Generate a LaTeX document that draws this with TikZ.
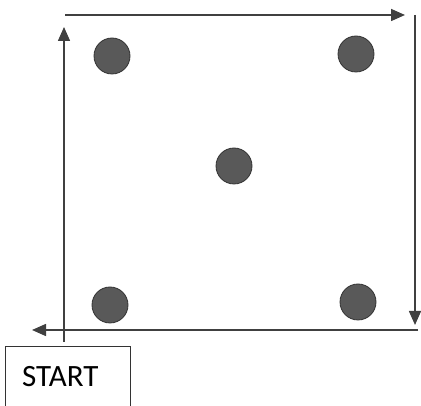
\documentclass[tikz,border=0pt]{standalone}
\usepackage{fontspec}
\setmainfont{Carlito}
\usetikzlibrary{arrows.meta}
\begin{document}
\begin{tikzpicture}[x=1pt,y=-1pt,
  edge/.style={draw=black!75,line width=1.6pt,-{Triangle[length=14pt,width=12pt]}},
  dot/.style={circle,fill=black!65,draw=black!80,line width=0.8pt,minimum size=36pt,inner sep=0pt},
  startbox/.style={draw=black!80,line width=1pt}]
\clip (0,0) rectangle (421,406);
\useasboundingbox (0,0) rectangle (421,406);
\coordinate (t1) at (65,15);
\coordinate (t2) at (405,15);
\coordinate (r1) at (415,15);
\coordinate (r2) at (415,325);
\coordinate (b1) at (418,330);
\coordinate (b2) at (32,330);
\coordinate (l1) at (64,342);
\coordinate (l2) at (64,27);
\draw[edge] (t1) -- (t2);
\draw[edge] (r1) -- (r2);
\draw[edge] (b1) -- (b2);
\draw[edge] (l1) -- (l2);
\node[dot] (d1) at (112,56) {};
\node[dot] (d2) at (356,54) {};
\node[dot] (d3) at (234,166) {};
\node[dot] (d4) at (110,305) {};
\node[dot] (d5) at (358,302) {};
\draw[startbox] (5,347) rectangle (130,420);
\node[anchor=base west,inner sep=0pt,font=\fontsize{31}{31}\selectfont] (start) at (22,387) {START};
\end{tikzpicture}
\end{document}
